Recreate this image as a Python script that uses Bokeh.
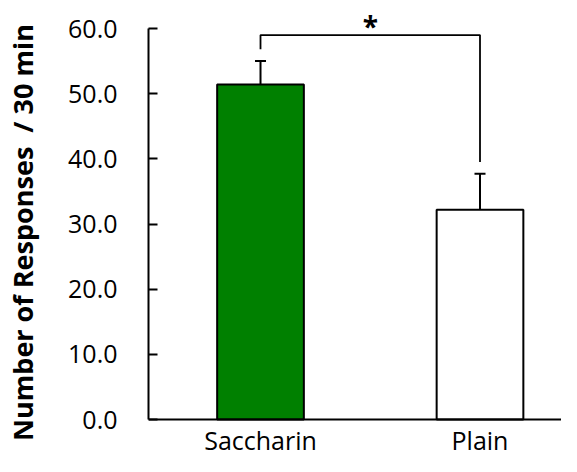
from bokeh.plotting import figure
from bokeh.models import FixedTicker, NumeralTickFormatter, Whisker, TeeHead, ColumnDataSource, Label
from bokeh.embed import file_html
from bokeh.resources import INLINE

# ---- data ----
categories = ["Saccharin", "Plain"]
means = [51.4, 32.2]
sems = [3.6, 5.5]
bar_colors = ["#008000", "#ffffff"]
y_ticks = [0, 10, 20, 30, 40, 50, 60]
sig_level = 59.0
sig_gap = 1.8
sig_text = "*"

xs = list(range(len(categories)))
uppers = [m + s for m, s in zip(means, sems)]

p = figure(width=561, height=456, output_backend="svg", toolbar_location=None,
           x_range=(-0.5103, 1.3713), y_range=(-5.67, 63.07),
           min_border_left=148, min_border_right=0, min_border_top=8, min_border_bottom=0)
p.outline_line_color = None
p.xgrid.visible = False
p.ygrid.visible = False
p.background_fill_color = "white"
p.border_fill_color = "white"

src = ColumnDataSource(dict(x=xs, top=means, upper=uppers, color=bar_colors))
p.vbar(x="x", width=0.395, top="top", bottom=0, source=src,
       fill_color="color", line_color="black", line_width=2)

w = Whisker(base="x", lower="top", upper="upper", source=src,
            line_color="black", line_width=2,
            upper_head=TeeHead(size=11, line_color="black", line_width=2),
            lower_head=None)
p.add_layout(w)

# significance bracket
bx = [xs[0], xs[0], xs[1], xs[1]]
by = [uppers[0] + sig_gap, sig_level, sig_level, uppers[1] + sig_gap]
p.line(bx, by, line_color="black", line_width=1.8)
p.add_layout(Label(x=(xs[0] + xs[1]) / 2, y=sig_level, y_offset=9, text=sig_text,
                   text_align="center", text_baseline="alphabetic",
                   text_font="Open Sans", text_font_style="bold", text_font_size="28px",
                   text_color="black"))

# y axis
ya = p.yaxis[0]
ya.ticker = FixedTicker(ticks=y_ticks)
ya.bounds = (0, 60)
ya.formatter = NumeralTickFormatter(format="0.0")
ya.major_tick_in = 9
ya.major_tick_out = 0
ya.minor_tick_line_color = None
ya.axis_line_width = 2
ya.major_tick_line_width = 2
ya.major_label_standoff = 31
ya.major_label_text_font = "Open Sans"
ya.major_label_text_font_size = "25px"
ya.major_label_text_color = "black"
ya.axis_label = "Number of Responses\u00a0 / 30 min"
ya.axis_label_text_font = "Open Sans"
ya.axis_label_text_font_style = "bold"
ya.axis_label_text_font_size = "27px"
ya.axis_label_text_color = "black"
ya.axis_label_standoff = 24

# x axis (drawn at y = 0 inside the frame)
xa = p.xaxis[0]
xa.fixed_location = 0
xa.ticker = FixedTicker(ticks=xs)
xa.major_label_overrides = {i: c for i, c in zip(xs, categories)}
xa.major_tick_line_color = None
xa.minor_tick_line_color = None
xa.axis_line_width = 2
xa.major_label_standoff = -3
xa.major_label_text_font = "Open Sans"
xa.major_label_text_font_size = "25px"
xa.major_label_text_color = "black"

open("out.html", "w").write(file_html(p, INLINE))
